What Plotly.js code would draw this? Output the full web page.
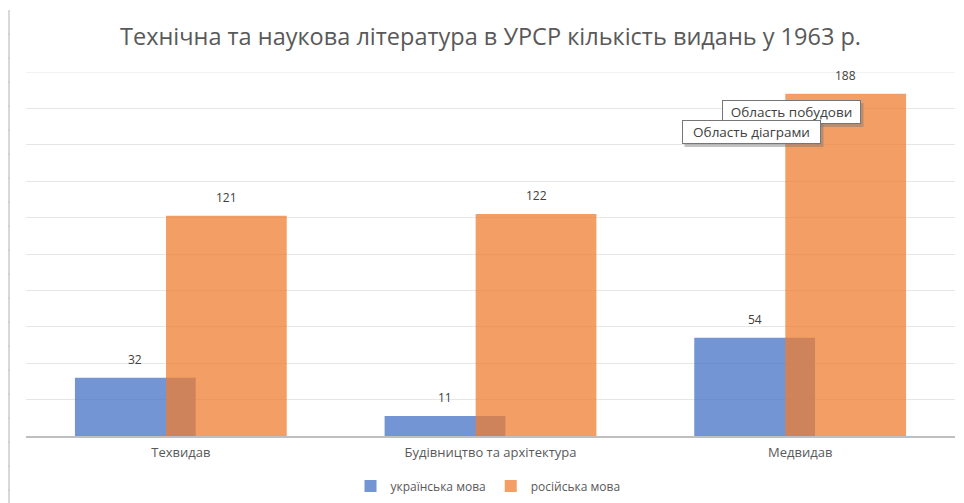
<!DOCTYPE html>
<html>
<head>
<meta charset="utf-8">
<script src="https://cdn.plot.ly/plotly-3.0.1.min.js"></script>
<style>html,body{margin:0;padding:0;background:#fff;}#chart{width:964px;height:503px;}</style>
</head>
<body>
<div id="chart"></div>
<script>
const categories = ["Техвидав", "Будівництво та архітектура", "Медвидав"];
const ukrainian = [32, 11, 54];
const russian = [121, 122, 188];
const seriesNames = ["українська мова", "російська мова"];
const titleText = "Технічна та наукова література в УРСР кількість видань у 1963 р.";

const FONT = "Open Sans, Liberation Sans, sans-serif";
const BAR_W = 0.39;
const OFFS = [-0.342, -0.048];
const CAT_PX = 929 / 3;

const traces = [
  {
    type: "bar", name: seriesNames[0], x: categories, y: ukrainian,
    width: BAR_W, offset: OFFS[0],
    marker: {color: "rgba(68,114,196,0.75)", line: {width: 0}},
    hoverinfo: "skip"
  },
  {
    type: "bar", name: seriesNames[1], x: categories, y: russian,
    width: BAR_W, offset: OFFS[1],
    marker: {color: "rgba(237,125,49,0.75)", line: {width: 0}},
    hoverinfo: "skip"
  }
];

const px2x = p => (p - 26) / 929;
const py2y = p => (436 - p) / 364;

const shapes = [
  {type: "line", xref: "paper", yref: "paper", x0: px2x(9), x1: px2x(9), y0: py2y(503), y1: py2y(10),
   line: {color: "#D9D9D9", width: 2}},
  {type: "line", xref: "paper", yref: "y", x0: 0, x1: 1, y0: 200, y1: 200,
   line: {color: "#E6E6E6", width: 1}}
];
for (let py = 34; py < 503; py += 24) {
  shapes.push({type: "line", xref: "paper", yref: "paper",
    x0: px2x(8), x1: px2x(10), y0: py2y(py), y1: py2y(py),
    line: {color: "#C8C8C8", width: 1}});
}

// data labels, positioned from the data via axis coordinates
const annotations = [];
[ukrainian, russian].forEach((vals, si) => {
  vals.forEach((v, i) => {
    annotations.push({
      xref: "x", yref: "y", x: categories[i], y: v,
      xshift: (OFFS[si] + BAR_W / 2) * CAT_PX, yshift: 8,
      xanchor: "center", yanchor: "bottom",
      text: String(v), showarrow: false,
      font: {size: 12, color: "#404040", family: FONT}
    });
  });
});

// Excel-style tooltips (box + soft shadow)
const TW = 135, TH = 20;
function tip(text, cx, cy) {
  const w = TW + 4, h = TH + 4;
  shapes.push({type: "rect", xref: "paper", yref: "paper", layer: "above",
    x0: px2x(cx - w/2 + 3), x1: px2x(cx + w/2 + 3), y0: py2y(cy + h/2 + 3), y1: py2y(cy - h/2 + 3),
    fillcolor: "rgba(120,120,120,0.45)", line: {width: 0}});
  annotations.push({xref: "paper", yref: "paper", x: px2x(cx), y: py2y(cy),
     xanchor: "center", yanchor: "middle", width: TW, height: TH, align: "center",
     text: text, showarrow: false, font: {size: 13.5, color: "#404040", family: FONT},
     bgcolor: "#FFFFFF", borderpad: 1, borderwidth: 1, bordercolor: "#767676"});
}
tip("Область побудови", 791, 112);
tip("Область діаграми", 751, 132);

const layout = {
  width: 964, height: 503,
  margin: {l: 26, r: 9, t: 72, b: 67, pad: 0},
  paper_bgcolor: "#FFFFFF", plot_bgcolor: "#FFFFFF",
  barmode: "overlay",
  title: {text: titleText, font: {size: 23.5, color: "#595959", family: FONT},
          x: 0.5, xanchor: "center", xref: "paper", y: 1 - 37/503, yanchor: "middle", yref: "container"},
  xaxis: {type: "category", showgrid: false, zeroline: false, showline: true,
          linecolor: "#BFBFBF", linewidth: 2, ticks: "", ticklabelstandoff: 3,
          tickfont: {size: 13, color: "#595959", family: FONT}, fixedrange: true},
  yaxis: {range: [0, 200], dtick: 20, showgrid: true, gridcolor: "#E6E6E6", gridwidth: 1,
          zeroline: false, showticklabels: false, ticks: "", showline: false, fixedrange: true},
  showlegend: true,
  legend: {orientation: "h", x: 0.5 + 6/964, xanchor: "center", xref: "container",
           y: 1 - 486/503, yanchor: "middle", yref: "container",
           font: {size: 12, color: "#595959", family: FONT}, itemwidth: 30, traceorder: "normal"},
  shapes: shapes,
  annotations: annotations
};
Plotly.newPlot("chart", traces, layout, {displayModeBar: false, staticPlot: true});
</script>
</body>
</html>
